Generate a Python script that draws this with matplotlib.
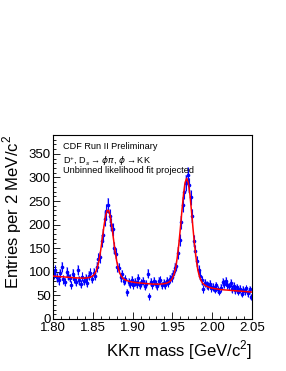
import numpy as np
import matplotlib.pyplot as plt
from matplotlib.ticker import MultipleLocator, FormatStrFormatter

plt.rcParams['font.family'] = ['Liberation Sans', 'DejaVu Sans']
plt.rcParams['mathtext.fontset'] = 'custom'
plt.rcParams['mathtext.rm'] = 'Liberation Sans'

# histogram: 2 MeV bins from 1.80 to 2.05 GeV, entries per bin
BIN_LO = 1.80
BIN_W = 0.002
counts = [
    95, 104, 88, 82, 97, 110, 84, 78, 100, 92,
    87, 72, 96, 85, 79, 104, 82, 74, 90, 81,
    86, 77, 92, 98, 85, 98, 92, 110, 128, 131,
    165, 178, 212, 228, 241, 218, 200, 190, 150, 138,
    110, 108, 88, 95, 80, 84, 57, 78, 74, 83,
    71, 79, 75, 86, 72, 77, 80, 70, 74, 96,
    48, 78, 72, 80, 75, 69, 81, 83, 71, 76,
    73, 80, 77, 85, 88, 95, 108, 112, 140, 168,
    205, 242, 270, 288, 305, 283, 258, 218, 165, 145,
    122, 104, 92, 82, 64, 76, 73, 70, 75, 66,
    68, 62, 71, 63, 58, 66, 78, 75, 80, 72,
    69, 76, 64, 70, 61, 67, 58, 64, 53, 62,
    59, 65, 55, 63, 46,
]

# projected fit curve, read at every 2 MeV from 1.800 to 2.050
fit_vals = [
    91.0, 90.7, 90.5, 90.2, 89.9, 89.6, 89.4, 89.1, 88.8, 88.6,
    88.3, 88.0, 87.7, 87.5, 87.2, 87.1, 86.9, 86.8, 86.7, 86.7,
    86.8, 87.0, 87.5, 88.1, 89.3, 91.3, 94.7, 100.8, 110.8, 125.9,
    146.4, 171.2, 196.6, 218.0, 230.2, 229.9, 217.2, 195.2, 169.3, 144.0,
    122.9, 107.2, 96.7, 90.1, 86.1, 83.6, 81.9, 80.7, 79.6, 78.9,
    78.3, 77.7, 77.3, 76.9, 76.5, 76.2, 75.8, 75.5, 75.2, 75.0,
    74.7, 74.4, 74.1, 73.9, 74.0, 73.9, 73.8, 74.0, 74.1, 74.4,
    75.0, 75.6, 76.9, 78.6, 81.4, 86.2, 94.3, 107.4, 128.9, 157.1,
    192.0, 230.1, 264.7, 289.4, 298.2, 288.9, 263.6, 228.4, 189.9, 154.4,
    125.6, 103.5, 90.0, 81.3, 75.9, 72.7, 70.4, 68.5, 67.3, 66.3,
    65.4, 64.7, 64.1, 63.6, 63.1, 62.4, 62.2, 61.9, 61.6, 61.4,
    61.1, 60.8, 60.5, 60.3, 60.0, 59.7, 59.4, 59.2, 58.9, 58.6,
    58.4, 58.1, 57.8, 57.5, 57.3, 57.0,
]

labels = ["CDF Run II Preliminary",
          r"D$^{+}$, D$_{s}$$\rightarrow\phi\pi$, $\phi\rightarrow$KK",
          "Unbinned likelihood fit projected"]

counts = np.array(counts, dtype=float)
centers = BIN_LO + BIN_W * (np.arange(len(counts)) + 0.5)
errs = np.sqrt(counts)
fit_x = BIN_LO + BIN_W * np.arange(len(fit_vals))

fig = plt.figure(figsize=(2.86, 3.71), dpi=100)
ax = fig.add_axes([0.1853, 0.1402, 0.6958, 0.496])

# shaded error boxes + error bars
ax.bar(centers, 2 * errs, bottom=counts - errs, width=BIN_W,
       color='#5a5aff', alpha=0.45, linewidth=0, zorder=1)
ax.errorbar(centers, counts, yerr=errs, fmt='o', ms=1.6, color='#0000ff',
            elinewidth=0.8, capsize=0, zorder=2)
ax.plot(fit_x, fit_vals, color='#ff0000', lw=1.1, zorder=3)

ax.set_xlim(1.80, 2.05)
ax.set_ylim(0, 390)
ax.xaxis.set_major_locator(MultipleLocator(0.05))
ax.xaxis.set_minor_locator(MultipleLocator(0.01))
ax.xaxis.set_major_formatter(FormatStrFormatter('%.2f'))
ax.yaxis.set_major_locator(MultipleLocator(50))
ax.yaxis.set_minor_locator(MultipleLocator(10))
ax.tick_params(which='both', direction='in', top=False, right=False,
               labelsize=9.5, width=0.6)
ax.tick_params(axis='x', pad=2)
ax.tick_params(axis='y', pad=1.5)
ax.tick_params(which='major', length=5)
ax.tick_params(which='minor', length=2.5)
for s in ax.spines.values():
    s.set_linewidth(0.8)

ax.set_xlabel('KK\u03c0 mass [GeV/c$^{2}$]', fontsize=12, loc='right')
ax.set_ylabel('Entries per 2 MeV/c$^{2}$', fontsize=12, loc='top')
ax.xaxis.set_label_coords(1.0, -0.105)
ax.yaxis.set_label_coords(-0.146, 1.0)

for i, t in enumerate(labels):
    ax.text(0.05, 0.962 - i * 0.066, t, transform=ax.transAxes,
            fontsize=6.6, va='top', ha='left')

fig.savefig('out.png', dpi=100)
